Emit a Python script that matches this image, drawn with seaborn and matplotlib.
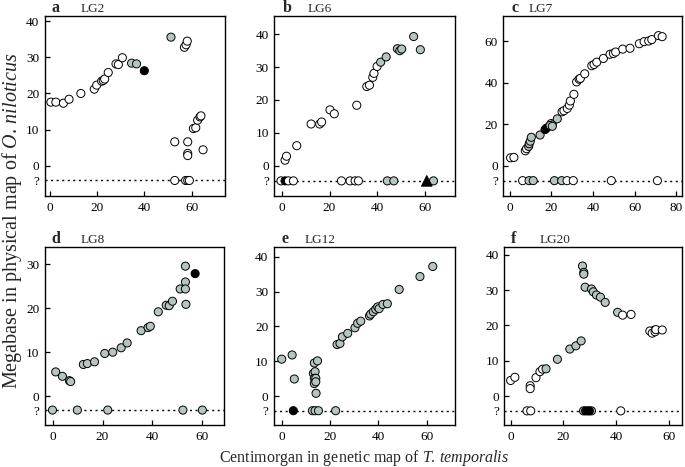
import numpy as np
import pandas as pd
import matplotlib
matplotlib.use("Agg")
import matplotlib.pyplot as plt
import seaborn as sns

# ---------------- data (cM in T. temporalis, Mb in O. niloticus) ----------------
# kind: w = white, g = grey, b = black circle, t = black triangle
# LG2
a_cm = [0.4, 2.5, 5.7, 8.1, 13.1, 18.8, 19.8, 21.9, 22.6, 23.2, 24.7, 28.0, 29.0, 30.7,
        34.6, 36.7, 40.0, 51.3,
        57.0, 57.7, 58.2, 52.9, 58.4, 58.4, 58.4, 60.8, 61.8, 62.6, 63.6, 64.0, 64.9]
a_mb = [17.6, 17.6, 17.3, 18.4, 20.0, 21.2, 22.3, 23.4, 23.6, 24.0, 25.8, 28.2, 28.0, 29.9,
        28.4, 28.2, 26.3, 35.6,
        32.8, 33.5, 34.5, 6.6, 6.6, 3.4, 2.8, 10.3, 10.5, 12.6, 13.5, 13.8, 4.4]
a_kind = ["w"] * 14 + ["g", "g", "b", "g"] + ["w"] * 13
a_q_cm = [52.9, 57.5, 58.4, 59.1]
a_q_kind = ["w", "w", "w", "w"]

# LG6
b_cm = [1.4, 2.0, 6.3, 12.3, 15.9, 16.7, 20.2, 22.0, 31.4, 35.6, 36.7, 38.1, 38.6, 39.9,
        41.4, 43.7, 48.4, 49.4, 50.2, 55.2, 58.0]
b_mb = [1.7, 2.9, 6.1, 12.7, 12.7, 13.3, 17.0, 15.8, 18.4, 24.1, 24.5, 26.9, 28.1, 30.2,
        31.5, 33.1, 35.6, 35.0, 35.5, 39.3, 35.3]
b_kind = ["w"] * 14 + ["g"] * 7
b_q_cm = [-0.3, 1.4, 2.8, 4.9, 25.0, 28.6, 30.7, 32.1, 44.2, 46.9, 63.5, 60.7]
b_q_kind = ["w", "b", "w", "w", "w", "w", "w", "w", "g", "g", "g", "t"]

# LG7
c_cm = [0.3, 1.9, 7.4, 8.0,
        9.0, 9.3, 9.8, 10.3, 14.5,
        19.8, 20.4, 16.9, 17.7,
        19.3, 20.4, 22.8,
        25.1, 26.0, 27.6, 28.6, 29.1, 30.8, 32.1, 33.3, 33.9, 36.0, 39.4, 40.5, 41.8,
        45.0, 48.2, 49.8, 50.9, 54.3, 57.8, 62.3, 64.6, 66.8, 68.3, 71.5, 73.3]
c_mb = [3.7, 3.9, 7.1, 8.1,
        9.2, 10.5, 11.7, 13.6, 14.7,
        20.2, 19.6, 17.3, 18.1,
        19.3, 18.9, 22.5,
        25.9, 26.4, 27.5, 29.1, 31.1, 34.3, 40.3, 41.6, 42.0, 44.2, 48.1, 48.7, 49.8,
        51.6, 53.6, 54.0, 54.7, 56.1, 56.5, 58.7, 59.7, 60.0, 60.7, 62.6, 62.1]
c_kind = (["w"] * 4 + ["g"] * 5 + ["w", "w", "b", "b"] + ["g"] * 3 + ["w"] * 25)
c_q_cm = [6.1, 9.2, 11.2, 21.4, 24.9, 27.5, 30.5, 48.8, 71.0]
c_q_kind = ["w", "g", "g", "g", "g", "w", "w", "w", "w"]

# LG8
d_cm = [1.2, 3.9, 6.7, 7.2, 12.3, 13.9, 16.8, 20.9, 24.1, 27.5, 29.9, 35.5, 38.3, 39.2,
        42.4, 45.6, 46.8, 48.1, 51.2, 53.3, 53.3, 53.3, 53.5, 57.2]
d_mb = [5.5, 4.5, 3.5, 3.3, 7.2, 7.4, 7.8, 9.7, 10.0, 11.0, 12.1, 14.9, 15.6, 15.9,
        19.2, 20.7, 20.6, 21.6, 24.4, 29.6, 26.0, 24.4, 20.9, 27.9]
d_kind = ["g"] * 23 + ["b"]
d_q_cm = [-0.1, 9.9, 22.1, 52.3, 60.1]
d_q_kind = ["g"] * 5

# LG12
e_cm = [0.0, 4.3, 5.2, 13.1, 13.8, 13.5, 14.8, 13.5, 14.1, 13.5, 14.1, 14.2,
        22.9, 24.1, 25.1, 27.3, 30.3, 31.4, 32.7, 36.3, 36.8, 37.9, 38.9, 39.7, 40.3,
        41.9, 43.7, 48.6, 57.2, 62.5]
e_mb = [10.6, 11.8, 4.9, 6.5, 7.0, 9.5, 10.1, 5.1, 5.1, 3.6, 4.1, 0.8,
        14.8, 15.1, 17.0, 18.0, 19.6, 20.9, 21.5, 23.0, 23.5, 24.2, 24.9, 25.6, 25.1,
        26.3, 26.5, 30.6, 34.3, 37.2]
e_kind = ["g"] * 30
e_q_cm = [4.8, 12.7, 13.8, 15.2, 22.3]
e_q_kind = ["b", "g", "g", "g", "g"]

# LG20
f_cm = [0.0, 1.6, 7.4, 7.4, 9.6, 11.1, 12.1,
        13.4, 17.7, 22.4, 24.7, 26.7, 27.2, 27.7, 27.7, 28.2, 30.6, 31.3, 32.5, 34.0,
        35.8, 40.5,
        54.3,
        42.4, 45.6, 52.7, 53.6, 54.7, 55.0, 57.4]
f_mb = [4.4, 5.3, 2.9, 2.1, 5.2, 6.9, 7.6,
        7.7, 10.4, 13.3, 14.2, 15.6, 36.8, 35.0, 34.5, 30.8, 30.3, 29.5, 28.6, 28.0,
        26.5, 23.7,
        18.6,
        22.9, 23.1, 18.4, 17.8, 18.2, 18.8, 18.7]
f_kind = ["w"] * 7 + ["g"] * 15 + ["b"] + ["w"] * 7
f_q_cm = [6.2, 7.6, 27.6, 30.6, 28.4, 29.2, 29.8, 41.7]
f_q_kind = ["w", "w", "g", "g", "b", "b", "b", "w"]

panel_letters = ["a", "b", "c", "d", "e", "f"]
panel_names = ["LG2", "LG6", "LG7", "LG8", "LG12", "LG20"]
x_ticks = [[0, 20, 40, 60], [0, 20, 40, 60], [0, 20, 40, 60, 80],
           [0, 20, 40, 60], [0, 20, 40, 60], [0, 20, 40, 60]]
y_ticks = [[0, 10, 20, 30, 40], [0, 10, 20, 30, 40], [0, 20, 40, 60],
           [0, 10, 20, 30], [0, 10, 20, 30, 40], [0, 10, 20, 30, 40]]

# ---------------- layout ----------------
W, H = 685, 467
boxes = [(45, 15.5, 225, 196), (274.3, 15.5, 455, 196), (503.3, 15.5, 681.7, 196),
         (45, 247.3, 224, 425), (274, 247.3, 455, 425), (504.3, 247.3, 682.3, 425)]
xlims = [(-2.1, 74.2), (-3.1, 72.5), (-3.2, 82.7), (-3.1, 68.8), (-3.2, 71.7), (-2.4, 65.0)]
ylims = [(-8.4, 41.6), (-9.2, 45.7), (-14.7, 72.3), (-6.6, 33.9), (-8.3, 42.7), (-8.2, 42.1)]
q_levels = [-4.1, -4.6, -7.3, -3.2, -4.2, -4.2]
letter_x = [51.7, 282.3, 511, 51.7, 281.7, 511]
name_x = [81, 307.7, 529, 80.7, 305, 540]
title_y = [12.5, 12.5, 12.5, 243.3, 243.3, 243.3]

sns.set_theme(style="white")
plt.rcParams["font.family"] = ["Liberation Serif", "DejaVu Serif"]
plt.rcParams["mathtext.fontset"] = "custom"
plt.rcParams["mathtext.rm"] = "Liberation Serif"
plt.rcParams["mathtext.it"] = "Liberation Serif:italic"

GREY = "#b6c6be"
palette = {"w": "white", "g": GREY, "b": "black", "t": "black"}
markers = {"w": "o", "g": "o", "b": "o", "t": "^"}
sizes = {"w": 34, "g": 34, "b": 34, "t": 58}

fig = plt.figure(figsize=(W / 100, H / 100), dpi=100)

data = [
    (a_cm, a_mb, a_kind, a_q_cm, a_q_kind),
    (b_cm, b_mb, b_kind, b_q_cm, b_q_kind),
    (c_cm, c_mb, c_kind, c_q_cm, c_q_kind),
    (d_cm, d_mb, d_kind, d_q_cm, d_q_kind),
    (e_cm, e_mb, e_kind, e_q_cm, e_q_kind),
    (f_cm, f_mb, f_kind, f_q_cm, f_q_kind),
]

for i, (cm, mb, kind, qcm, qkind) in enumerate(data):
    x0, y0, x1, y1 = boxes[i]
    ax = fig.add_axes([x0 / W, 1 - y1 / H, (x1 - x0) / W, (y1 - y0) / H])
    ql = q_levels[i]
    df = pd.DataFrame({"cM": list(cm) + list(qcm),
                       "Mb": list(mb) + [ql] * len(qcm),
                       "kind": list(kind) + list(qkind)})
    ax.axhline(ql, color="black", lw=1.0, ls=(0, (1.5, 2.5)), zorder=1)
    sns.scatterplot(data=df, x="cM", y="Mb", hue="kind", style="kind", size="kind",
                    palette=palette, markers=markers, sizes=sizes,
                    edgecolor="black", linewidth=0.7, legend=False, ax=ax, zorder=3)
    ax.set_xlim(*xlims[i])
    ax.set_ylim(*ylims[i])
    ax.set_xticks(x_ticks[i])
    yt = [ql] + y_ticks[i]
    ax.set_yticks(yt)
    ax.set_yticklabels(["?"] + [str(v) for v in y_ticks[i]])
    ax.set_xlabel("")
    ax.set_ylabel("")
    ax.tick_params(direction="in", length=3.5, width=0.9, labelsize=9.5, pad=4,
                   colors="black", left=True, bottom=True)
    ax.yaxis.get_major_ticks()[0].tick1line.set_visible(False)
    for sp in ax.spines.values():
        sp.set_visible(True)
        sp.set_color("black")
        sp.set_linewidth(1.0)
    fig.text(letter_x[i] / W, 1 - title_y[i] / H, panel_letters[i], fontsize=11.5,
             fontweight="bold", ha="left", va="baseline")
    fig.text(name_x[i] / W, 1 - title_y[i] / H, panel_names[i], fontsize=9.5,
             ha="left", va="baseline")

fig.text(12 / W, 1 - 221 / H, r"Megabase in physical map of $\mathit{O.\,niloticus}$",
         rotation=90, ha="center", va="center", fontsize=14.5)
fig.text(364 / W, 1 - 458 / H, r"Centimorgan in genetic map of $\mathit{T.\,temporalis}$",
         ha="center", va="center", fontsize=11.5)

fig.savefig("out.png", dpi=100)
